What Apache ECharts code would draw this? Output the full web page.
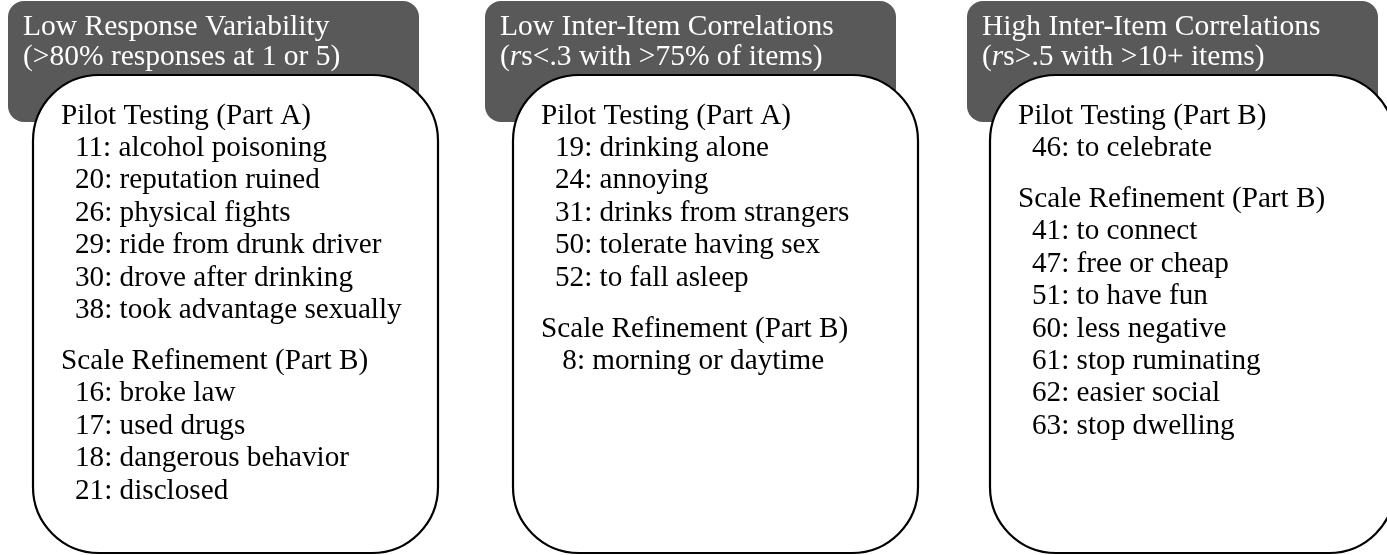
<!DOCTYPE html>
<html>
<head>
<meta charset="utf-8">
<script src="https://cdn.jsdelivr.net/npm/echarts@6/dist/echarts.min.js"></script>
<style>
  html, body { margin: 0; padding: 0; background: #fff; }
  #main { width: 1387px; height: 555px; }
</style>
</head>
<body>
<div id="main"></div>
<script>
// 各面板的标题（两行，{i|r} 为斜体）
const titleLine1 = ['Low Response Variability', 'Low Inter-Item Correlations', 'High Inter-Item Correlations'];
const titleLine2 = ['(>80% responses at 1 or 5)', '({i|r}s<.3 with >75% of items)', '({i|r}s>.5 with >10+ items)'];

// 第一组：Pilot Testing
const pilotHeads = ['Pilot Testing (Part A)', 'Pilot Testing (Part A)', 'Pilot Testing (Part B)'];
const pilotItems = [
  ['11: alcohol poisoning', '20: reputation ruined', '26: physical fights', '29: ride from drunk driver', '30: drove after drinking', '38: took advantage sexually'],
  ['19: drinking alone', '24: annoying', '31: drinks from strangers', '50: tolerate having sex', '52: to fall asleep'],
  ['46: to celebrate']
];

// 第二组：Scale Refinement
const refineHeads = ['Scale Refinement (Part B)', 'Scale Refinement (Part B)', 'Scale Refinement (Part B)'];
const refineItems = [
  ['16: broke law', '17: used drugs', '18: dangerous behavior', '21: disclosed'],
  [' 8: morning or daytime'],
  ['41: to connect', '47: free or cheap', '51: to have fun', '60: less negative', '61: stop ruminating', '62: easier social', '63: stop dwelling']
];

const FONT = '"Liberation Serif", "Times New Roman", serif';
const darkX = [8, 485, 967];
const whiteX = [33, 513, 990];
const lineH = 32.4;

function textEl(x, y, str, color, fs) {
  return {
    type: 'text',
    x: x,
    y: y,
    z: 10,
    style: {
      text: str,
      fill: color,
      font: fs + 'px ' + FONT,
      verticalAlign: 'bottom',
      rich: { i: { fontStyle: 'italic', fontFamily: FONT, fontSize: fs, fill: color } }
    }
  };
}

let graphics = [];
for (let p = 0; p < 3; p++) {
  // 灰色标题框
  graphics.push({
    type: 'rect', z: 1,
    shape: { x: darkX[p], y: 1, width: 411, height: 121, r: 16 },
    style: { fill: '#595959' }
  });
  // 白色内容框
  graphics.push({
    type: 'rect', z: 2,
    shape: { x: whiteX[p], y: 75, width: 405, height: 478, r: 66 },
    style: { fill: '#fff', stroke: '#000', lineWidth: 2.2 }
  });
  graphics.push(textEl(darkX[p] + 15, 42, titleLine1[p], '#fff', 29.5));
  graphics.push(textEl(darkX[p] + 15, 72, titleLine2[p], '#fff', 29.5));

  let y = 130.5;
  graphics.push(textEl(whiteX[p] + 28, y, pilotHeads[p], '#000', 29.2));
  pilotItems[p].forEach(function (s) {
    y += lineH;
    graphics.push(textEl(whiteX[p] + 42, y, s, '#000', 29.2));
  });
  y += lineH * 1.57;
  graphics.push(textEl(whiteX[p] + 28, y, refineHeads[p], '#000', 29.2));
  refineItems[p].forEach(function (s) {
    y += lineH;
    graphics.push(textEl(whiteX[p] + 42, y, s, '#000', 29.2));
  });
}

let mycharts = echarts.init(document.getElementById('main'));
let option = {
  animation: false,
  graphic: { elements: graphics }
};
option && mycharts.setOption(option);
</script>
</body>
</html>
